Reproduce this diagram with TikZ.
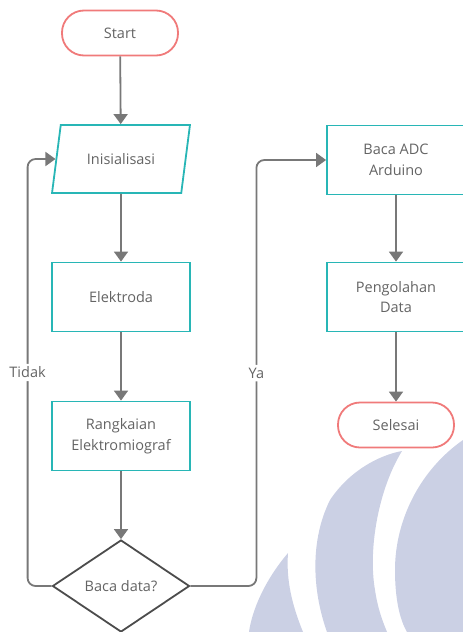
\documentclass[tikz,border=0pt]{standalone}
\usepackage{fontspec}
\setmainfont{Open Sans}
\usepackage{xcolor}
\usetikzlibrary{shapes.geometric,arrows.meta}
\definecolor{tealc}{RGB}{40,182,182}
\definecolor{redc}{RGB}{240,122,122}
\definecolor{linec}{RGB}{120,120,120}
\definecolor{txtc}{RGB}{100,100,100}
\definecolor{markc}{RGB}{203,208,228}

\begin{document}
\begin{tikzpicture}[x=1pt, y=-1pt,
  every node/.style={font=\fontsize{14.5}{20.5}\selectfont, text=txtc, align=center, inner sep=2pt},
  term/.style={draw=redc, line width=1.8pt, fill=white, rectangle, rounded corners=22pt, minimum width=116pt, minimum height=45pt},
  proc/.style={draw=tealc, line width=1.8pt, fill=white, rectangle, minimum width=138pt, minimum height=69pt},
  io/.style={draw=tealc, line width=1.8pt, fill=white, trapezium, trapezium left angle=71, trapezium right angle=109, trapezium stretches=true, minimum width=138pt, minimum height=68pt},
  dec/.style={draw=black!70, line width=1.8pt, fill=white, diamond, minimum width=137pt, minimum height=92pt, inner sep=0pt},
  flow/.style={draw=linec, line width=1.8pt, rounded corners=8pt, -{Triangle[width=14pt, length=10pt]}},
  lbl/.style={fill=white, inner sep=3pt}]
\useasboundingbox (0,0) rectangle (463,632);

% watermark
\fill [markc] (288,553) .. controls (265,580) and (252,610) .. (249,632) -- (303,632) .. controls (292,605) and (286,580) .. (288,553) -- cycle;
\fill [markc] (402,451) .. controls (378,490) and (368,550) .. (375,590) .. controls (378,610) and (383,622) .. (387,632) -- (327,632) .. controls (312,590) and (310,540) .. (330,500) .. controls (350,470) and (380,455) .. (402,451) -- cycle;
\fill [markc] (463,440) .. controls (420,470) and (395,520) .. (395,570) .. controls (395,600) and (400,620) .. (407,632) -- (463,632) -- cycle;

\node (St) at (120,33) [term] {Start};
\node (In) at (121,159) [io] {Inisialisasi};
\node (El) at (121,297) [proc] {Elektroda};
\node (Rk) at (121,436) [proc] {Rangkaian\\Elektromiograf};
\node (Bd) at (121,586) [dec] {Baca data?};
\node (Ad) at (396,160) [proc] {Baca ADC\\Arduino};
\node (Pd) at (396,297) [proc] {Pengolahan\\Data};
\node (Se) at (396,425) [term] {Selesai};

\draw [flow] (St) -- (In);
\draw [flow] (In) -- (El);
\draw [flow] (El) -- (Rk);
\draw [flow] (Rk) -- (Bd);
\draw [flow] (Bd.west) -- ++(-24,0) |- node[lbl, pos=0.25] {Tidak} (In.west);
\draw [flow] (Bd.east) -- ++(66,0) |- node[lbl, pos=0.25] {Ya} (Ad.west);
\draw [flow] (Ad) -- (Pd);
\draw [flow] (Pd) -- (Se);

\end{tikzpicture}
\end{document}
